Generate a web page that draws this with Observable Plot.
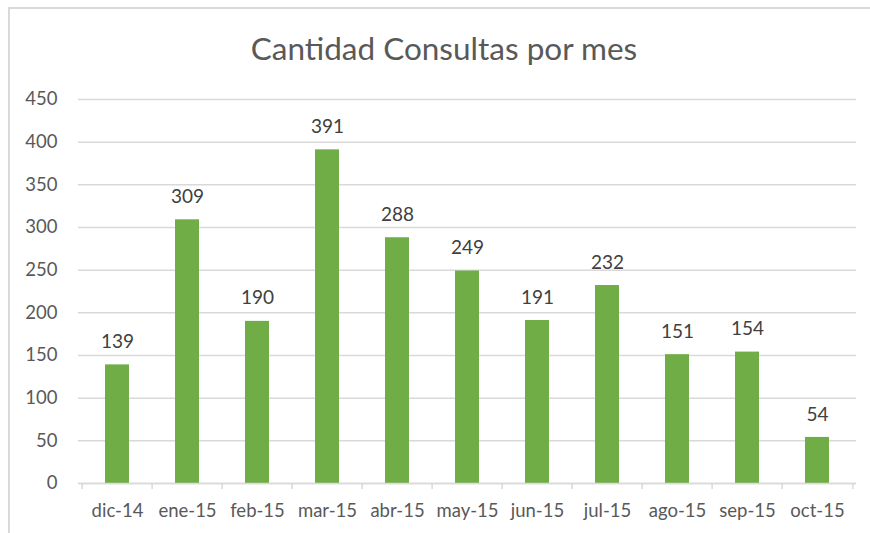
<!DOCTYPE html>
<html>
<head>
<meta charset="utf-8">
<script src="https://cdn.jsdelivr.net/npm/d3@7"></script>
<script src="https://cdn.jsdelivr.net/npm/@observablehq/plot@0.6"></script>
<style>
  html, body { margin: 0; padding: 0; background: #fff; overflow: hidden; }
  #wrap { position: relative; width: 870px; height: 533px; font-family: Lato, "Open Sans", sans-serif; }
  #frame { position: absolute; left: 8px; top: 7px; width: 900px; height: 600px; border: 2px solid #d9d9d9; box-sizing: border-box; }
  #title { position: absolute; left: 0; width: 888px; top: 29px; text-align: center; font-size: 31.5px; color: #595959; }
  #chart { position: absolute; left: 0; top: 0; }
</style>
</head>
<body>
<div id="wrap">
  <div id="frame"></div>
  <div id="title">Cantidad Consultas por mes</div>
  <div id="chart"></div>
</div>
<script>
const months = ["dic-14","ene-15","feb-15","mar-15","abr-15","may-15","jun-15","jul-15","ago-15","sep-15","oct-15"];
const consultas = [139, 309, 190, 391, 288, 249, 191, 232, 151, 154, 54];
const yTicks = [0, 50, 100, 150, 200, 250, 300, 350, 400, 450];

const data = months.map((m, i) => ({mes: m, valor: consultas[i]}));

const W = 870, H = 533, ML = 78, MR = 14, MT = 99, MB = 50;
const step = (W - ML - MR) / months.length;

const chart = Plot.plot({
  width: W, height: H,
  marginLeft: ML, marginRight: MR, marginTop: MT, marginBottom: MB,
  style: { fontFamily: "Lato, 'Open Sans', sans-serif", fontSize: "19px", background: "transparent", overflow: "visible" },
  x: { domain: months, paddingInner: 0.66, paddingOuter: 0.33, label: null },
  y: { domain: [0, 450], ticks: yTicks, label: null },
  marks: [
    Plot.gridY(yTicks, { stroke: "#d9d9d9", strokeOpacity: 1, strokeWidth: 1.5 }),
    Plot.axisY(yTicks, { tickSize: 0, tickPadding: 21, fill: "#595959", fontSize: 18.5 }),
    Plot.barY(data, { x: "mes", y: "valor", fill: "#70AD47" }),
    Plot.ruleY([0], { stroke: "#d9d9d9", strokeWidth: 1.5 }),
    Plot.ruleX(months, { x: d => d, dx: -step / 2, y1: 0, y2: -7, stroke: "#d9d9d9", strokeWidth: 1.5 }),
    Plot.ruleX([months[months.length - 1]], { x: d => d, dx: step / 2, y1: 0, y2: -7, stroke: "#d9d9d9", strokeWidth: 1.5 }),
    Plot.axisX({ tickSize: 0, tickPadding: 20, fill: "#595959", fontSize: 18.5 }),
    Plot.text(data, { x: "mes", y: "valor", text: d => String(d.valor), dy: -23, fill: "#404040", fontSize: 19 })
  ]
});
document.getElementById("chart").appendChild(chart);
</script>
</body>
</html>
